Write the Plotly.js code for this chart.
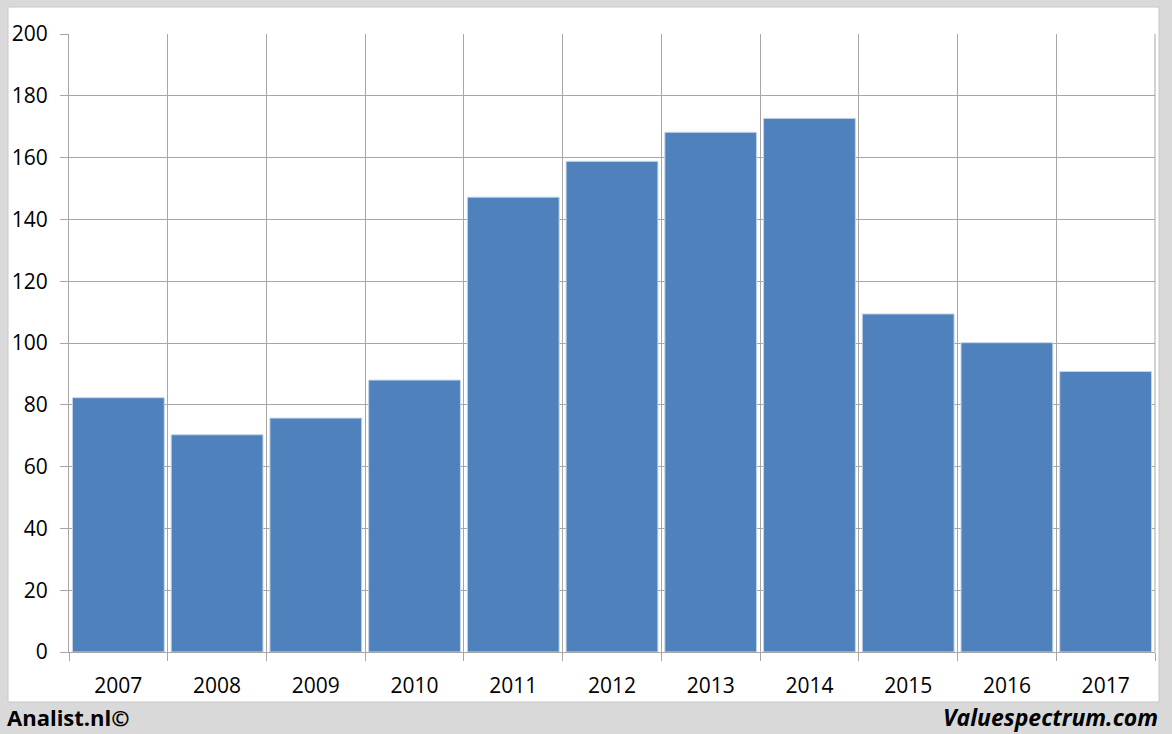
<!DOCTYPE html>
<html>
<head>
<meta charset="utf-8">
<script src="https://cdn.plot.ly/plotly-3.0.1.min.js"></script>
<style>
html,body{margin:0;padding:0;background:#d9d9d9;}
#chart{width:1172px;height:734px;}
</style>
</head>
<body>
<div id="chart"></div>
<script>
const years = ["2007","2008","2009","2010","2011","2012","2013","2014","2015","2016","2017"];
const values = [82.3, 70.3, 75.7, 88.0, 147.2, 158.8, 168.2, 172.7, 109.4, 100.1, 90.8];
const yTicks = [0,20,40,60,80,100,120,140,160,180,200];
const leftLabel = "Analist.nl©";
const rightLabel = "Valuespectrum.com";

const W = 1172, H = 734;
const mL = 69, mR = 17, mT = 34, mB = 82;
const pw = W - mL - mR, ph = H - mT - mB;
const px = x => (x - mL) / pw;
const py = y => (H - mB - y) / ph;

const font = "Open Sans, Liberation Sans, sans-serif";

const trace = {
  type: "bar",
  x: years,
  y: values,
  marker: {color: "#4f81bd", line: {color: "#c5d6ea", width: 1}},
  hoverinfo: "x+y"
};

const layout = {
  width: W, height: H,
  margin: {l: mL, r: mR, t: mT, b: mB, pad: 0},
  paper_bgcolor: "#d9d9d9",
  plot_bgcolor: "#ffffff",
  bargap: 0.07,
  showlegend: false,
  font: {family: font, size: 21, color: "#000000"},
  xaxis: {
    type: "category",
    tickson: "boundaries",
    showgrid: true,
    gridcolor: "#a6a6a6",
    gridwidth: 1,
    ticks: "outside",
    ticklen: 8,
    tickcolor: "#a6a6a6",
    showline: true,
    linecolor: "#a6a6a6",
    mirror: false,
    zeroline: false,
    ticklabelstandoff: 15,
    tickfont: {family: font, size: 21, color: "#000"},
    fixedrange: true
  },
  yaxis: {
    range: [0, 200],
    tickvals: yTicks,
    ticktext: yTicks.map(String),
    showgrid: true,
    gridcolor: "#a6a6a6",
    gridwidth: 1,
    ticks: "outside",
    ticklen: 8,
    tickcolor: "#a6a6a6",
    showline: true,
    linecolor: "#a6a6a6",
    zeroline: false,
    ticklabelstandoff: 8,
    tickfont: {family: font, size: 21, color: "#000"},
    fixedrange: true
  },
  shapes: [
    {type: "rect", xref: "paper", yref: "paper", layer: "below",
     x0: px(8), x1: px(1159), y0: py(702), y1: py(7),
     fillcolor: "#ffffff", line: {color: "#c8c8c8", width: 1}},
    {type: "line", xref: "paper", yref: "paper", layer: "above",
     x0: 1, x1: 1, y0: 0, y1: 1, line: {color: "#a6a6a6", width: 1}}
  ],
  annotations: [
    {text: "<b>" + leftLabel + "</b>", xref: "paper", yref: "paper",
     x: px(5), y: py(717), xanchor: "left", yanchor: "middle", showarrow: false,
     font: {family: font, size: 22, color: "#000"}},
    {text: "<b><i>" + rightLabel + "</i></b>", xref: "paper", yref: "paper",
     x: px(1160), y: py(717), xanchor: "right", yanchor: "middle", showarrow: false,
     font: {family: font, size: 23, color: "#000"}}
  ]
};

Plotly.newPlot("chart", [trace], layout, {displayModeBar: false, staticPlot: true});
</script>
</body>
</html>
